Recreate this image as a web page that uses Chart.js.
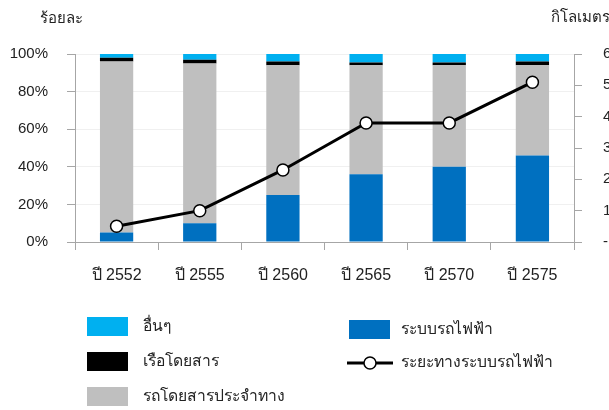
<!DOCTYPE html>
<html>
<head>
<meta charset="utf-8">
<script src="https://cdn.jsdelivr.net/npm/chart.js@4"></script>
<style>
  html, body { margin: 0; padding: 0; background: #fff; overflow: hidden; }
  #wrap { position: relative; width: 609px; height: 410px; font-family: "Liberation Sans", "Noto Sans", sans-serif; color: #222; }
  #chart { position: absolute; left: 0; top: 0; }
  .axisTitle { position: absolute; font-size: 15px; line-height: 18px; white-space: nowrap; }
  .leg { position: absolute; font-size: 15.7px; line-height: 20px; white-space: nowrap; }
  .sw { position: absolute; width: 41px; height: 19px; }
</style>
</head>
<body>
<div id="wrap">
  <canvas id="chart" width="609" height="410"></canvas>
  <div class="axisTitle" style="left:40px; top:9px;">ร้อยละ</div>
  <div class="axisTitle" style="left:551px; top:8px;">กิโลเมตร</div>
  <div id="legend"></div>
</div>
<script>
// categories
const years = ['ปี 2552', 'ปี 2555', 'ปี 2560', 'ปี 2565', 'ปี 2570', 'ปี 2575'];

// share of trips (%)
const railShare  = [5, 10, 25, 36, 40, 46];
const busShare   = [91, 85, 69, 58, 54, 48];
const boatShare  = [2, 2, 2, 1.5, 1.5, 2];
const otherShare = [2, 3, 4, 4.5, 4.5, 4];

// rail network length (km)
const railKm = [50, 100, 230, 380, 380, 510];

const seriesNames = {
    rail: 'ระบบรถไฟฟ้า',
    bus: 'รถโดยสารประจำทาง',
    boat: 'เรือโดยสาร',
    other: 'อื่นๆ',
    km: 'ระยะทางระบบรถไฟฟ้า'
};

const colors = {
    rail: '#0070C0',
    bus: '#BFBFBF',
    boat: '#000000',
    other: '#00B0F0'
};

const font = { family: '"Liberation Sans", "Noto Sans", sans-serif', size: 15 };

const ctx = document.getElementById('chart').getContext('2d');

new Chart(ctx, {
    type: 'bar',
    data: {
        labels: years,
        datasets: [
            {
                type: 'line',
                label: seriesNames.km,
                data: railKm,
                yAxisID: 'y1',
                borderColor: '#000',
                borderWidth: 3,
                pointRadius: 6,
                pointBackgroundColor: '#fff',
                pointBorderColor: '#000',
                pointBorderWidth: 1.5,
                tension: 0,
                order: 0
            },
            { label: seriesNames.rail, data: railShare, backgroundColor: colors.rail, stack: 's', order: 1 },
            { label: seriesNames.bus, data: busShare, backgroundColor: colors.bus, stack: 's', order: 1 },
            { label: seriesNames.boat, data: boatShare, backgroundColor: colors.boat, stack: 's', order: 1 },
            { label: seriesNames.other, data: otherShare, backgroundColor: colors.other, stack: 's', order: 1 }
        ]
    },
    options: {
        responsive: false,
        animation: false,
        events: [],
        datasets: {
            bar: { categoryPercentage: 1, barPercentage: 0.4, borderWidth: 0 }
        },
        layout: { padding: { top: 54, left: 0, right: 0, bottom: 0 } },
        plugins: {
            legend: { display: false },
            tooltip: { enabled: false }
        },
        scales: {
            x: {
                stacked: true,
                grid: { drawOnChartArea: false, drawTicks: true, tickLength: 8, color: '#a6a6a6' },
                border: { color: '#a6a6a6' },
                ticks: { color: '#222', font: { family: font.family, size: 16 }, padding: 16 },
                afterFit: s => { s.height = 168; }
            },
            y: {
                stacked: true,
                min: 0,
                max: 100,
                ticks: { stepSize: 20, color: '#222', font: font, padding: 19, callback: v => v + '%' },
                grid: { color: '#f0f0f0', tickColor: '#a6a6a6', tickLength: 8 },
                border: { color: '#a6a6a6' },
                afterFit: s => { s.width = 75; }
            },
            y1: {
                position: 'right',
                min: 0,
                max: 600,
                ticks: { stepSize: 100, color: '#222', font: font, padding: 21, callback: v => v === 0 ? '-' : v },
                grid: { drawOnChartArea: false, tickColor: '#a6a6a6', tickLength: 8 },
                border: { color: '#a6a6a6' },
                afterFit: s => { s.width = 35; }
            }
        }
    }
});

// legend, two columns as in the original
const legendItems = [
    { key: 'other', x: 87, y: 317 },
    { key: 'boat', x: 87, y: 352 },
    { key: 'bus', x: 87, y: 387 },
    { key: 'rail', x: 349, y: 320 },
    { key: 'km', x: 349, y: 353 }
];
const legend = document.getElementById('legend');
legendItems.forEach(item => {
    if (item.key === 'km') {
        const c = document.createElement('canvas');
        c.width = 46; c.height = 20;
        c.style.position = 'absolute';
        c.style.left = (item.x - 2) + 'px';
        c.style.top = item.y + 'px';
        const g = c.getContext('2d');
        g.strokeStyle = '#000'; g.lineWidth = 3;
        g.beginPath(); g.moveTo(0, 10); g.lineTo(46, 10); g.stroke();
        g.beginPath(); g.arc(23, 10, 6, 0, Math.PI * 2);
        g.fillStyle = '#fff'; g.fill(); g.lineWidth = 1.5; g.stroke();
        legend.appendChild(c);
    } else {
        const sw = document.createElement('div');
        sw.className = 'sw';
        sw.style.left = item.x + 'px';
        sw.style.top = item.y + 'px';
        sw.style.background = colors[item.key];
        legend.appendChild(sw);
    }
    const t = document.createElement('div');
    t.className = 'leg';
    t.textContent = seriesNames[item.key];
    t.style.left = (item.x + 56 - (item.x > 300 ? 4 : 0)) + 'px';
    t.style.top = (item.y - 1) + 'px';
    legend.appendChild(t);
});
</script>
</body>
</html>
